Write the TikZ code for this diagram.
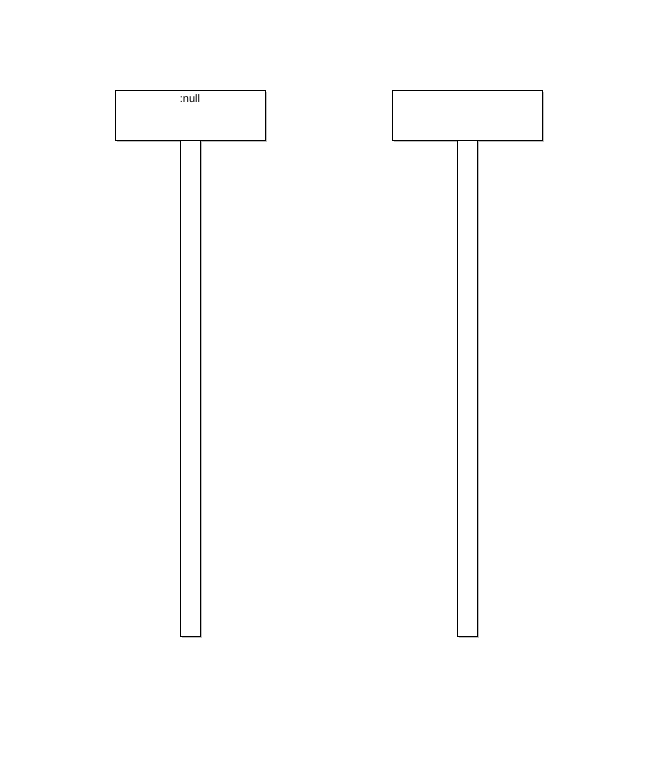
\documentclass[tikz,border=0pt]{standalone}
\usepackage{fontspec}
\setmainfont{Liberation Sans}
\usetikzlibrary{positioning,shadows}

\begin{document}
\begin{tikzpicture}[
    x=1pt, y=-1pt,
    objbox/.style   = {draw, thin, fill=white, minimum width=150pt, minimum height=50pt,
                       inner sep=0pt, outer sep=0pt,
                       drop shadow={shadow xshift=2pt, shadow yshift=-2pt, fill=black!25, opacity=1}},
    lifebar/.style  = {draw, thin, fill=white, minimum width=20pt, minimum height=496pt,
                       inner sep=0pt, outer sep=0pt,
                       drop shadow={shadow xshift=2pt, shadow yshift=-2pt, fill=black!25, opacity=1}},
    objlbl/.style   = {font=\fontsize{11}{12}\selectfont, inner sep=0pt},
]
\useasboundingbox (0,0) rectangle (657,777);

% ============================================================
%  OBJECT 1  (:null), header box and lifeline
% ============================================================
\node[objbox, anchor=north west] (obj1) at (115,90) {};
\node[objlbl, below=4pt of obj1.north] (obj1lbl) {:null};
\node[lifebar, anchor=north] (life1) at (obj1.south -| 190,0) {};

% ============================================================
%  OBJECT 2  (no label), header box and lifeline
% ============================================================
\node[objbox, anchor=north west] (obj2) at (392,90) {};
\node[lifebar, anchor=north] (life2) at (obj2.south -| 467,0) {};

\end{tikzpicture}
\end{document}
